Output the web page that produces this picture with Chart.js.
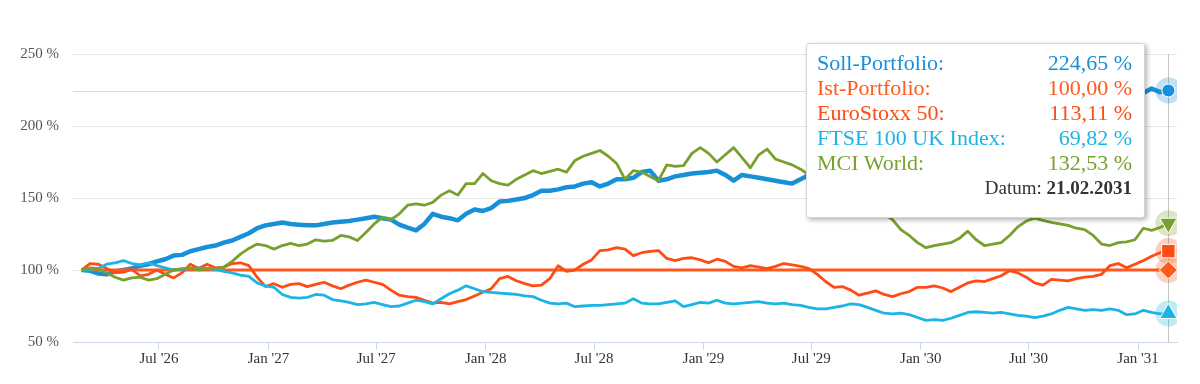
<!DOCTYPE html>
<html>
<head>
<meta charset="utf-8">
<script src="https://cdn.jsdelivr.net/npm/chart.js@4.4.1/dist/chart.umd.min.js"></script>
<style>
    body { margin: 0; background: #fff; }
    #wrap { position: relative; width: 1200px; height: 384px; }
    #tip {
        position: absolute; left: 806px; top: 43px; width: 339px; height: 175px;
        box-sizing: border-box; background: #fff; border: 1px solid #d6d6d6; border-radius: 3px;
        box-shadow: 2px 2px 5px rgba(0, 0, 0, 0.3);
        font-family: "Liberation Serif", serif; padding: 6px 12px 0 10px;
    }
    .row { display: flex; justify-content: space-between; font-size: 22px; line-height: 25px; }
    .datum { text-align: right; font-size: 19px; line-height: 25px; color: #333; }
</style>
</head>
<body>
<div id="wrap">
    <canvas id="myChart" width="1200" height="384"></canvas>
    <div id="tip"></div>
</div>
<script>
// Wertentwicklung in %, alle zwei Wochen von 21.02.2026 bis 21.02.2031
var soll = [
    100, 99.5, 97.5, 97, 99, 100, 101, 103, 104, 106,
    107.5, 110, 110.5, 113, 114.5, 116, 117, 119, 120.5, 123,
    125.5, 129, 131, 132, 133, 132, 131.5, 131, 131, 132,
    133, 133.5, 134, 135, 136, 137, 136, 135, 131.5, 129.5,
    127.5, 132, 139, 137, 136, 134.5, 139, 142, 141, 143,
    147.5, 148, 149, 150, 152, 155, 155, 156, 157.5, 158,
    160, 161, 158, 160, 163, 163, 164, 168, 169, 162,
    163, 165, 166, 167, 167.5, 168, 169, 166, 162, 166,
    165, 164, 163, 162, 161, 160, 163, 166, 169, 168,
    172, 171, 175, 178, 176, 180, 183, 181, 185, 188,
    186, 190, 193, 191, 195, 198, 196, 200, 203, 201,
    205, 208, 206, 210, 213, 211, 215, 217, 216, 219,
    221, 220, 222, 224, 222, 223, 222.5, 223, 226, 223.5,
    224.65
];
var ist = [100.00, 100.00];
var euroStoxx = [
    100, 104.5, 104, 101, 98, 98.5, 100.5, 96, 97, 100,
    97, 94.5, 98, 104, 101, 104, 101.5, 102, 104.5, 105,
    103, 95, 88.5, 90.5, 88, 90, 90.5, 88.5, 90, 91.5,
    89, 87, 89.5, 91.5, 93, 91.5, 90, 86, 82.5, 81.5,
    81, 79, 77, 77.5, 76.5, 78, 79.5, 82, 84.5, 87,
    94, 95.5, 92.5, 90.5, 89, 89.5, 94, 103, 99, 100,
    104, 107, 113.5, 114, 115.5, 114.5, 110, 112, 113, 113.5,
    108, 106.5, 108, 108.5, 107, 105, 107.5, 106, 102.5, 101.5,
    103, 102, 101, 102.5, 104.5, 103.5, 102.5, 101, 97, 92,
    88, 88.5, 86, 82.5, 84, 85.5, 83, 81.5, 83.5, 85,
    88, 88, 89, 87.5, 85, 88, 91, 92.5, 92, 94,
    96, 99.5, 98, 95, 91, 89.5, 93.5, 93, 92.5, 94,
    95, 95.5, 97, 103, 104.5, 101.5, 104, 106.5, 109.5, 112,
    113.11
];
var ftse = [
    100, 100.5, 101, 104, 105, 106.5, 104.5, 103.5, 105, 103,
    101.5, 100, 100.5, 101, 101.5, 101, 100.5, 99, 98, 96.5,
    95.5, 91, 89, 88, 83, 81, 80.5, 81, 83, 82.5,
    79.5, 78.5, 77.5, 76, 76.5, 77.5, 76, 74.5, 75, 77,
    79, 78, 76.5, 80, 83.5, 86, 89, 87, 85, 84.5,
    84, 83.5, 83, 82, 81.5, 79, 77, 76.5, 77, 74.5,
    75, 75.5, 75.5, 76, 76.5, 77, 80, 77, 76.5, 76.5,
    77.5, 78.5, 74.5, 76, 77.5, 77, 79, 77, 76.5, 77,
    77.5, 78, 77, 76.5, 77, 76, 75.5, 74, 73, 73,
    74, 75, 76.5, 76, 74, 72, 70, 69.5, 70, 69,
    67, 65, 65.5, 65, 66.5, 68.5, 70.5, 71, 70.5, 70,
    70.5, 69.5, 68.5, 68, 67, 68, 69.5, 72, 74, 73,
    72, 72.5, 72, 73, 72, 69, 69.5, 72, 70.5, 69.5,
    69.82
];
var mciWorld = [
    100, 101.5, 101, 98, 95, 93, 94.5, 95, 93, 94,
    97, 100, 101, 101.5, 100, 101, 101, 102, 106, 111,
    115, 118, 117, 114.5, 117, 118.5, 117, 118, 121, 120,
    120.5, 124, 123, 120.5, 126, 132, 136.5, 135, 139, 145,
    146, 145, 147, 152, 155, 152, 160, 160, 167, 162,
    160, 159, 163, 166, 169, 167, 168.5, 170, 168, 176,
    179, 181, 183, 179, 174, 163, 169, 168, 165, 162,
    173, 172, 172.5, 181, 185, 181, 175, 180, 185, 178,
    171, 180, 184, 177, 175, 173, 170, 166, 165, 162,
    163, 158, 155, 152, 148, 144, 139, 135, 128, 124,
    119, 115.5, 117, 118, 119, 122, 127, 121, 117, 118,
    119, 124, 130, 134, 136, 134.5, 133, 132, 131, 129,
    128, 124, 118, 117, 119, 119.5, 121, 129, 127.5, 129.5,
    132.53
];
var tickDates = ['2026-07-01', '2027-01-01', '2027-07-01', '2028-01-01', '2028-07-01',
    '2029-01-01', '2029-07-01', '2030-01-01', '2030-07-01', '2031-01-01'];
var tickLabels = ["Jul '26", "Jan '27", "Jul '27", "Jan '28", "Jul '28",
    "Jan '29", "Jul '29", "Jan '30", "Jul '30", "Jan '31"];
var yTicks = [50, 100, 150, 200, 250];

var DAY = 86400000;
var startDate = Date.UTC(2026, 1, 21);
var endDate = Date.UTC(2031, 1, 21);
var dates = soll.map(function(v, i) {
    return startDate + (endDate - startDate) * i / (soll.length - 1);
});
var istDates = [startDate, endDate];

var colors = {
    soll: '#1890d8',
    ist: '#fe5a1d',
    euro: '#ff4b14',
    ftse: '#1cb4e6',
    mci: '#79a02c'
};

function points(values, xs) {
    return values.map(function(v, i) { return { x: xs[i], y: v }; });
}

function rgba(hex, a) {
    var n = parseInt(hex.slice(1), 16);
    return 'rgba(' + (n >> 16) + ',' + ((n >> 8) & 255) + ',' + (n & 255) + ',' + a + ')';
}

function line(label, values, xs, color, width, order) {
    return {
        label: label,
        data: points(values, xs),
        borderColor: color,
        borderWidth: width,
        borderJoinStyle: 'round',
        pointRadius: 0,
        tension: 0,
        fill: false,
        order: order
    };
}

function lastMarker(values, xs, color, style, radius, rotation) {
    var last = [{ x: xs[xs.length - 1], y: values[values.length - 1] }];
    return [{
        data: last,
        showLine: false,
        pointRadius: 13,
        pointBackgroundColor: rgba(color, 0.27),
        pointBorderWidth: 0,
        order: -1
    }, {
        data: last,
        showLine: false,
        pointStyle: style,
        pointRadius: radius,
        pointRotation: rotation,
        pointBackgroundColor: color,
        pointBorderColor: '#fff',
        pointBorderWidth: 1,
        order: -2
    }];
}

var datasets = [
    line('Soll-Portfolio', soll, dates, colors.soll, 4.5, 5),
    line('Ist-Portfolio', ist, istDates, colors.ist, 2.8, 4),
    line('EuroStoxx 50', euroStoxx, dates, colors.euro, 2.8, 3),
    line('FTSE 100 UK Index', ftse, dates, colors.ftse, 2.8, 2),
    line('MCI World', mciWorld, dates, colors.mci, 2.8, 1)
].concat(
    lastMarker(soll, dates, colors.soll, 'circle', 6.5, 0),
    lastMarker(ist, istDates, colors.ist, 'rectRot', 9, 0),
    lastMarker(euroStoxx, dates, colors.euro, 'rect', 9.5, 0),
    lastMarker(ftse, dates, colors.ftse, 'triangle', 10, 0),
    lastMarker(mciWorld, dates, colors.mci, 'triangle', 10, 180)
);

// Fadenkreuz am letzten Datum
var crosshair = {
    id: 'crosshair',
    beforeDatasetsDraw: function(chart) {
        var c = chart.ctx, a = chart.chartArea;
        var x = chart.scales.x.getPixelForValue(endDate);
        var y = chart.scales.y.getPixelForValue(soll[soll.length - 1]);
        c.save();
        c.lineWidth = 1;
        c.strokeStyle = '#dcdcdc';
        c.beginPath();
        c.moveTo(a.left, Math.round(y) + 0.5);
        c.lineTo(a.right, Math.round(y) + 0.5);
        c.stroke();
        c.strokeStyle = '#c4c4c4';
        c.beginPath();
        c.moveTo(Math.round(x) + 0.5, a.top);
        c.lineTo(Math.round(x) + 0.5, a.bottom);
        c.stroke();
        c.restore();
    }
};

var ctx = document.getElementById('myChart');
var myChart = new Chart(ctx, {
    type: 'line',
    data: { datasets: datasets },
    plugins: [crosshair],
    options: {
        responsive: false,
        animation: false,
        devicePixelRatio: 1,
        layout: { padding: { top: 54, right: 23, left: 0, bottom: 0 } },
        plugins: {
            legend: { display: false },
            tooltip: { enabled: false }
        },
        scales: {
            x: {
                type: 'linear',
                min: Date.UTC(2026, 0, 1) + 36.5 * DAY,
                max: Date.UTC(2026, 0, 1) + 1891.5 * DAY,
                afterBuildTicks: function(scale) {
                    scale.ticks = tickDates.map(function(d) { return { value: Date.parse(d) }; });
                },
                afterFit: function(scale) { scale.height = 42; },
                grid: { drawOnChartArea: false, drawTicks: true, tickLength: 8, color: '#ccd6eb' },
                border: { color: '#ccd6eb', width: 1 },
                ticks: {
                    autoSkip: false,
                    maxRotation: 0,
                    padding: 0,
                    color: '#333',
                    font: { family: 'Liberation Serif', size: 15 },
                    callback: function(value, index) { return tickLabels[index]; }
                }
            },
            y: {
                min: 50,
                max: 250,
                afterBuildTicks: function(scale) {
                    scale.ticks = yTicks.map(function(v) { return { value: v }; });
                },
                afterFit: function(scale) { scale.width = 73; },
                grid: { color: '#e6e6e6', drawTicks: false },
                border: { display: false },
                ticks: {
                    padding: 14,
                    color: '#555',
                    font: { family: 'Liberation Serif', size: 15 },
                    callback: function(value) { return value + ' %'; }
                }
            }
        }
    }
});

// Tooltip-Box am letzten Punkt
function fmt(v) { return v.toFixed(2).replace('.', ',') + ' %'; }
var d = new Date(endDate);
var datum = ('0' + d.getUTCDate()).slice(-2) + '.' + ('0' + (d.getUTCMonth() + 1)).slice(-2) + '.' + d.getUTCFullYear();
var rows = [
    ['Soll-Portfolio:', soll, colors.soll],
    ['Ist-Portfolio:', ist, colors.ist],
    ['EuroStoxx 50:', euroStoxx, colors.euro],
    ['FTSE 100 UK Index:', ftse, colors.ftse],
    ['MCI World:', mciWorld, colors.mci]
];
var html = '';
rows.forEach(function(r) {
    html += "<div class='row' style='color:" + r[2] + "'><span>" + r[0] + "</span><span>" +
        fmt(r[1][r[1].length - 1]) + "</span></div>";
});
html += "<div class='datum'>Datum: <b>" + datum + "</b></div>";
document.getElementById('tip').innerHTML = html;
</script>
</body>
</html>
